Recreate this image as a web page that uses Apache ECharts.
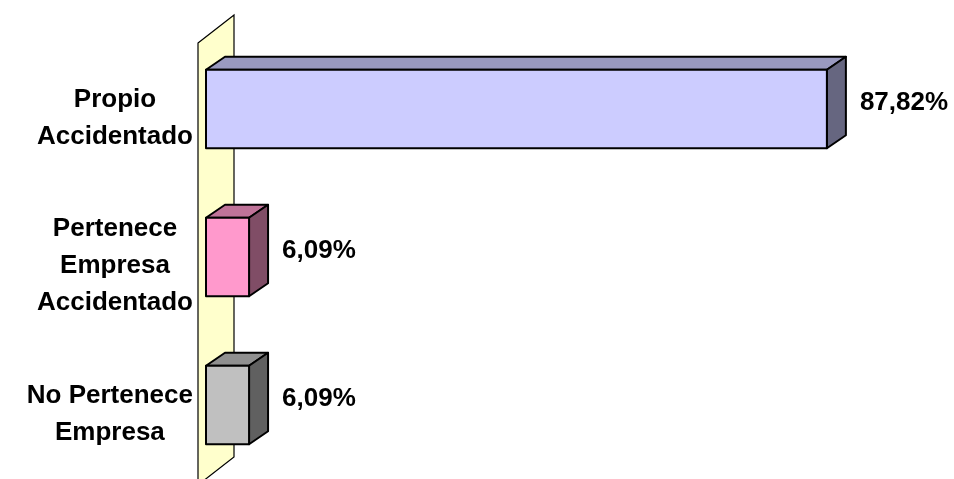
<!DOCTYPE html>
<html>
<head>
<meta charset="utf-8">
<script src="https://cdn.jsdelivr.net/npm/echarts@6/dist/echarts.min.js"></script>
<style>html,body{margin:0;padding:0;background:#fff}#c{width:954px;height:479px}</style>
</head>
<body>
<div id="c"></div>
<script>
const categories = ['Propio\nAccidentado', 'Pertenece\nEmpresa\nAccidentado', 'No Pertenece\nEmpresa'];
const values = [87.82, 6.09, 6.09];
const frontColors = ['#CCCCFF', '#FF99CC', '#C0C0C0'];
const topColors = ['#9999BF', '#BF7399', '#909090'];
const sideColors = ['#666680', '#804D66', '#606060'];

const FONT = '"Liberation Sans", Arial, sans-serif';
const chart = echarts.init(document.getElementById('c'));

function fmt(v) { return v.toFixed(2).replace('.', ',') + '%'; }

chart.setOption({
  animation: false,
  backgroundColor: '#ffffff',
  grid: { left: 206, top: 35, width: 707, height: 444, containLabel: false },
  xAxis: { type: 'value', min: 0, max: 100, show: false },
  yAxis: {
    type: 'category', inverse: true, data: categories,
    axisLine: { show: false }, axisTick: { show: false }, splitLine: { show: false },
    axisLabel: {
      margin: 13, align: 'right', padding: [18, 0, 0, 0],
      formatter: function (s) { return s.split('\n').map(l => '{c|' + l + '}').join('\n'); },
      rich: { c: { align: 'center', fontFamily: FONT, fontWeight: 'bold', fontSize: 26, lineHeight: 37, color: '#000' } }
    }
  },
  series: [
    {
      type: 'custom', z: 1, silent: true,
      data: [[0, 0]],
      renderItem: function (params, api) {
        const cs = params.coordSys;
        const x0 = cs.x, yT = cs.y, yB = cs.y + cs.height;
        return {
          type: 'polygon',
          shape: { points: [[x0 - 8, yT + 8], [x0 + 28, yT - 20], [x0 + 28, yB - 22], [x0 - 8, yB + 6]] },
          style: { fill: '#FFFFCC', stroke: '#000', lineWidth: 1.2 }
        };
      }
    },
    {
      type: 'custom', z: 2, silent: true,
      encode: { x: 0, y: 1 },
      data: values.map((v, i) => [v, i]),
      renderItem: function (params, api) {
        const v = api.value(0), ci = api.value(1);
        const p0 = api.coord([0, ci]), p1 = api.coord([v, ci]);
        const bh = api.size([0, 1])[1] * 0.53;
        const x0 = p0[0], x1 = p1[0], yT = p0[1] - bh / 2, yB = p0[1] + bh / 2;
        const dx = 19, dy = -13;
        const i = params.dataIndex;
        const st = { stroke: '#000', lineWidth: 2, lineJoin: 'round' };
        return {
          type: 'group',
          children: [
            { type: 'polygon', shape: { points: [[x0, yT], [x0 + dx, yT + dy], [x1 + dx, yT + dy], [x1, yT]] },
              style: Object.assign({ fill: topColors[i] }, st) },
            { type: 'polygon', shape: { points: [[x1, yT], [x1 + dx, yT + dy], [x1 + dx, yB + dy], [x1, yB]] },
              style: Object.assign({ fill: sideColors[i] }, st) },
            { type: 'rect', shape: { x: x0, y: yT, width: x1 - x0, height: bh },
              style: Object.assign({ fill: frontColors[i] }, st) },
            { type: 'text', x: x1 + dx + 14, y: p0[1] + dy / 2,
              style: { text: fmt(v), fontFamily: FONT, fontWeight: 'bold', fontSize: 26, fill: '#000',
                       textAlign: 'left', textVerticalAlign: 'middle' } }
          ]
        };
      }
    }
  ]
});
</script>
</body>
</html>
